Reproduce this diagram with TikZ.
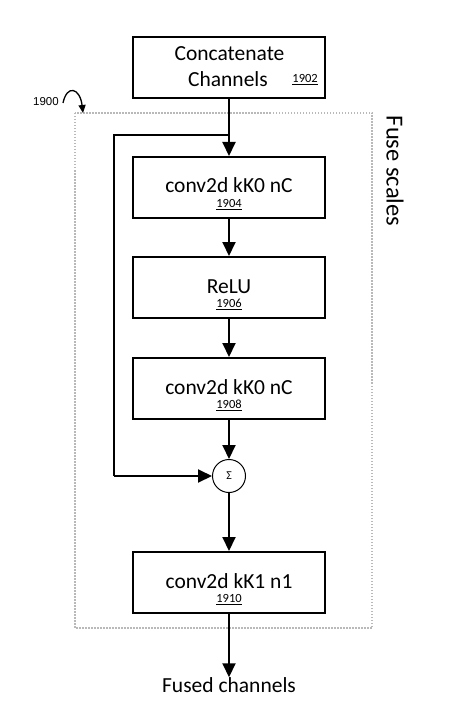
\documentclass[tikz,border=0pt]{standalone}
\usepackage{fontspec}
\setmainfont{Carlito}
\newfontfamily\arialf{Liberation Sans}
\usetikzlibrary{arrows.meta}
\begin{document}
\begin{tikzpicture}[x=1pt,y=-1pt,
  blk/.style={draw=black,line width=2pt,minimum width=192pt,minimum height=61pt,inner sep=0pt},
  main/.style={font=\fontsize{21.5}{25}\selectfont,inner sep=0pt,anchor=base},
  num/.style={font=\fontsize{12.5}{13}\selectfont,inner sep=0pt},
  arr/.style={line width=2pt,-{Triangle[length=14pt,width=13pt]}},
  ln/.style={line width=2pt}]
\useasboundingbox (0,0) rectangle (471,722);
% dashed frame
\draw[gray!55,line width=1.5pt,dash pattern=on 1.5pt off 1.5pt] (75,113) rectangle (372,628);
\node[rotate=-90,font=\fontsize{24.5}{26}\selectfont,inner sep=0pt] (fs) at (395,171) {Fuse scales};
% label 1900
\node[font=\arialf\fontsize{11.5}{12}\selectfont,inner sep=0pt] (lab) at (46,102) {1900};
\coordinate (labA) at (63,103);
\coordinate (labB) at (83,113);
\draw[line width=1.3pt,-{Triangle[length=8pt,width=7pt]}] (labA) .. controls (67,84) and (80,88) .. (labB);
% boxes
\node[blk] (cc) at (229,67.5) {};
\node[main] (cct1) at (229.5,61) {Concatenate};
\node[main] (cct2) at (228,87) {Channels};
\node[num,anchor=base east] (ccn) at (318,83) {\underline{1902}};

\node[blk] (b1) at (229,187.5) {};
\node[main] (b1t) at (229,193) {conv2d kK0 nC};
\node[num] (b1n) at (229,204.5) {\underline{1904}};

\node[blk] (b2) at (229,287.5) {};
\node[main] (b2t) at (229,293) {ReLU};
\node[num] (b2n) at (229,304.5) {\underline{1906}};

\node[blk] (b3) at (229,388.5) {};
\node[main] (b3t) at (229,394) {conv2d kK0 nC};
\node[num] (b3n) at (229,405.5) {\underline{1908}};

\node[draw=black,line width=1pt,circle,minimum size=33pt,inner sep=0pt,font=\fontsize{12}{13}\selectfont] (sum) at (229,476) {Σ};

\node[blk] (b4) at (229,582.5) {};
\node[main] (b4t) at (229,588) {conv2d kK1 n1};
\node[num] (b4n) at (229,599.5) {\underline{1910}};

\node[font=\fontsize{21.5}{25}\selectfont,inner sep=0pt] (out) at (229,685) {Fused channels};
% connectors
\coordinate (br) at (229,135);
\coordinate (fl) at (114,135);
\coordinate (fb) at (114,476);
\draw[arr] (cc.south) -- (b1.north);
\draw[ln] (br) -- (fl) -- (fb);
\draw[arr] (fb) -- (sum.west);
\draw[arr] (b1.south) -- (b2.north);
\draw[arr] (b2.south) -- (b3.north);
\draw[arr] (b3.south) -- (sum.north);
\draw[arr] (sum.south) -- (b4.north);
\draw[arr] (b4.south) -- (out.north);
\end{tikzpicture}
\end{document}
